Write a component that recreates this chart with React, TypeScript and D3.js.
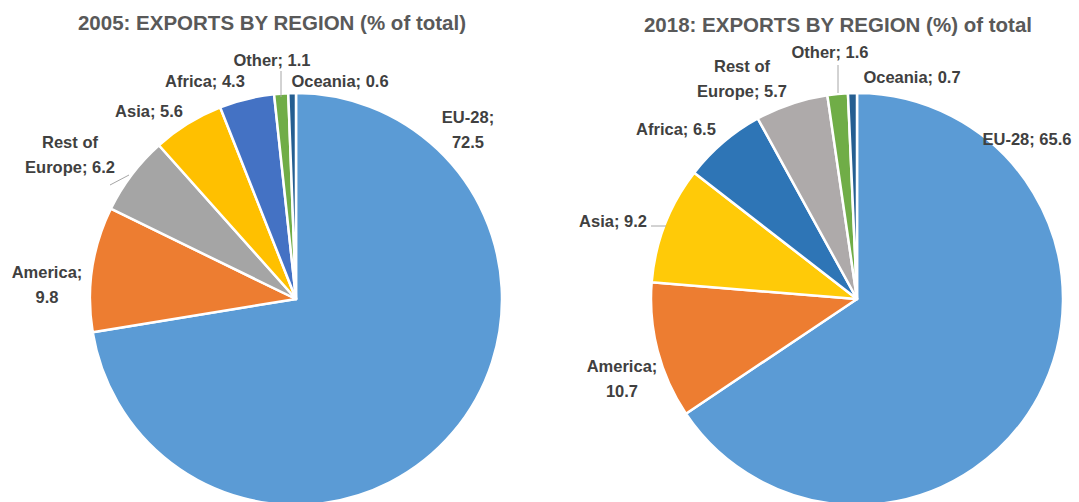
import React, { useEffect, useRef } from "react";
import * as d3 from "d3";

const regions2005 = ["EU-28", "America", "Rest of Europe", "Asia", "Africa", "Other", "Oceania"];
const values2005 = [72.5, 9.8, 6.2, 5.6, 4.3, 1.1, 0.6];
const colors2005 = ["#5B9BD5", "#ED7D31", "#A5A5A5", "#FFC000", "#4472C4", "#70AD47", "#255E91"];

const regions2018 = ["EU-28", "America", "Asia", "Africa", "Rest of Europe", "Other", "Oceania"];
const values2018 = [65.6, 10.7, 9.2, 6.5, 5.7, 1.6, 0.7];
const colors2018 = ["#5B9BD5", "#ED7D31", "#FFCA08", "#2E75B6", "#AEAAAA", "#70AD47", "#255E91"];

const titles = ["2005: EXPORTS BY REGION (% of total)", "2018: EXPORTS BY REGION (%) of total"];

type LabelSpec = { lines: string[]; x: number; y: number; leader?: [number, number, number, number] };

const labels2005: LabelSpec[] = [
  { lines: ["EU-28;", "72.5"], x: 468, y: 123 },
  { lines: ["America;", "9.8"], x: 47, y: 278 },
  { lines: ["Rest of", "Europe; 6.2"], x: 70, y: 148, leader: [110, 185, 129, 175] },
  { lines: ["Asia; 5.6"], x: 149, y: 117 },
  { lines: ["Africa; 4.3"], x: 205, y: 87 },
  { lines: ["Other; 1.1"], x: 272, y: 66, leader: [281, 71, 281, 97] },
  { lines: ["Oceania; 0.6"], x: 340, y: 87 },
];

const labels2018: LabelSpec[] = [
  { lines: ["EU-28; 65.6"], x: 1027, y: 145 },
  { lines: ["America;", "10.7"], x: 622, y: 372 },
  { lines: ["Asia; 9.2"], x: 613, y: 227, leader: [651, 226, 666, 226] },
  { lines: ["Africa; 6.5"], x: 676, y: 135 },
  { lines: ["Rest of", "Europe; 5.7"], x: 742, y: 72 },
  { lines: ["Other; 1.6"], x: 830, y: 58, leader: [838, 65, 838, 93] },
  { lines: ["Oceania; 0.7"], x: 912, y: 83 },
];

const FONT = "'Liberation Sans', Arial, sans-serif";

export default function App() {
  const ref = useRef<SVGSVGElement | null>(null);

  useEffect(() => {
    const svg = d3.select(ref.current);
    svg.selectAll("*").remove();

    const charts = [
      { cx: 296, cy: 299, values: values2005, names: regions2005, colors: colors2005, labels: labels2005, title: titles[0], tx: 272, ty: 30 },
      { cx: 857, cy: 299, values: values2018, names: regions2018, colors: colors2018, labels: labels2018, title: titles[1], tx: 838, ty: 32 },
    ];

    const r = 206;
    charts.forEach((c) => {
      const g = svg.append("g").attr("transform", `translate(${c.cx},${c.cy})`);
      const pie = d3.pie<number>().sort(null).value((d) => d);
      const arc = d3.arc<d3.PieArcDatum<number>>().innerRadius(0).outerRadius(r);
      g.selectAll("path")
        .data(pie(c.values))
        .enter()
        .append("path")
        .attr("d", arc)
        .attr("fill", (_d, i) => c.colors[i])
        .attr("stroke", "#ffffff")
        .attr("stroke-width", 2.5)
        .attr("stroke-linejoin", "round");

      svg.append("text")
        .attr("x", c.tx)
        .attr("y", c.ty)
        .attr("text-anchor", "middle")
        .attr("font-family", FONT)
        .attr("font-weight", "bold")
        .attr("font-size", 20.5)
        .attr("fill", "#595959")
        .text(c.title);

      c.labels.forEach((l) => {
        if (l.leader) {
          svg.append("line")
            .attr("x1", l.leader[0]).attr("y1", l.leader[1])
            .attr("x2", l.leader[2]).attr("y2", l.leader[3])
            .attr("stroke", "#A6A6A6").attr("stroke-width", 1);
        }
        const t = svg.append("text")
          .attr("text-anchor", "middle")
          .attr("font-family", FONT)
          .attr("font-weight", "bold")
          .attr("font-size", 16.5)
          .attr("fill", "#404040");
        l.lines.forEach((line, i) => {
          t.append("tspan").attr("x", l.x).attr("y", l.y + i * 25).text(line);
        });
      });
    });
  }, []);

  return (
    <svg
      ref={ref}
      width={1079}
      height={502}
      style={{ position: "absolute", left: 0, top: 0, background: "#ffffff" }}
    />
  );
}
